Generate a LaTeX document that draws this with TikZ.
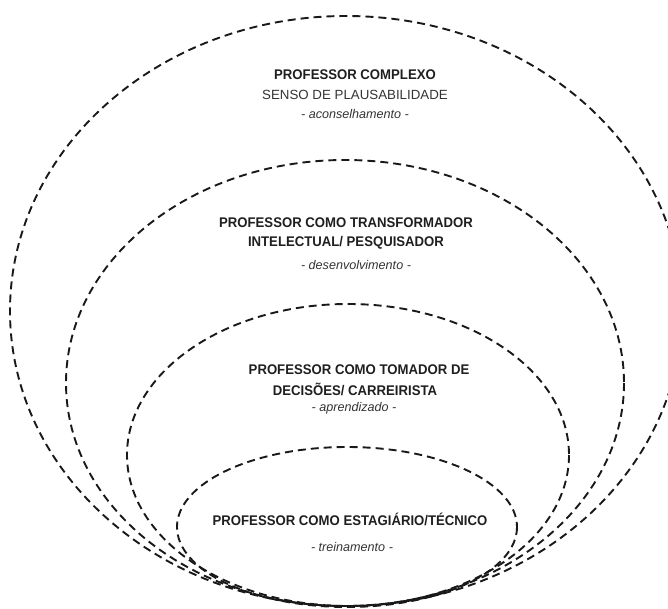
\documentclass[tikz,border=0pt]{standalone}
\usepackage{fontspec}
\setmainfont{Liberation Sans}
\newfontfamily\headfont[FakeStretch=0.94]{Liberation Sans}
\begin{document}
\begin{tikzpicture}[x=1pt,y=-1pt,
  ring/.style={draw=black!90, line width=1.9pt, dash pattern=on 8pt off 5pt},
  titlefont/.style={text=black!88, font=\headfont\fontsize{14}{16}\selectfont\bfseries, inner sep=0pt},
  subfont/.style={text=black!80, font=\fontsize{13.3}{15}\selectfont, inner sep=0pt},
  notefont/.style={text=black!80, font=\fontsize{12.6}{14}\selectfont\itshape, inner sep=0pt}]
\useasboundingbox (0,0) rectangle (668,609);
\clip (0,0) rectangle (668,609);

% nested rings, all touching at the bottom
\draw[ring] (346,311) ellipse [x radius=336, y radius=295];
\draw[ring] (345,383) ellipse [x radius=279, y radius=223];
\draw[ring] (348,455) ellipse [x radius=221, y radius=151];
\draw[ring] (347,527) ellipse [x radius=170, y radius=80];

% outer ring
\node[titlefont] (t1a) at (355,75) {PROFESSOR COMPLEXO};
\node[subfont]   (t1b) at (355,95) {SENSO DE PLAUSABILIDADE};
\node[notefont]  (t1c) at (355,114) {- aconselhamento -};

% second ring
\node[titlefont] (t2a) at (346,223) {PROFESSOR COMO TRANSFORMADOR};
\node[titlefont] (t2b) at (346,243) {INTELECTUAL/ PESQUISADOR};
\node[notefont]  (t2c) at (356,265) {- desenvolvimento -};

% third ring
\node[titlefont] (t3a) at (359,370) {PROFESSOR COMO TOMADOR DE};
\node[titlefont] (t3b) at (355,389) {DECISÕES/ CARREIRISTA};
\node[notefont]  (t3c) at (354,408) {- aprendizado -};

% inner ring
\node[titlefont] (t4a) at (350,519) {PROFESSOR COMO ESTAGIÁRIO/TÉCNICO};
\node[notefont]  (t4c) at (352,547) {- treinamento -};
\end{tikzpicture}
\end{document}
